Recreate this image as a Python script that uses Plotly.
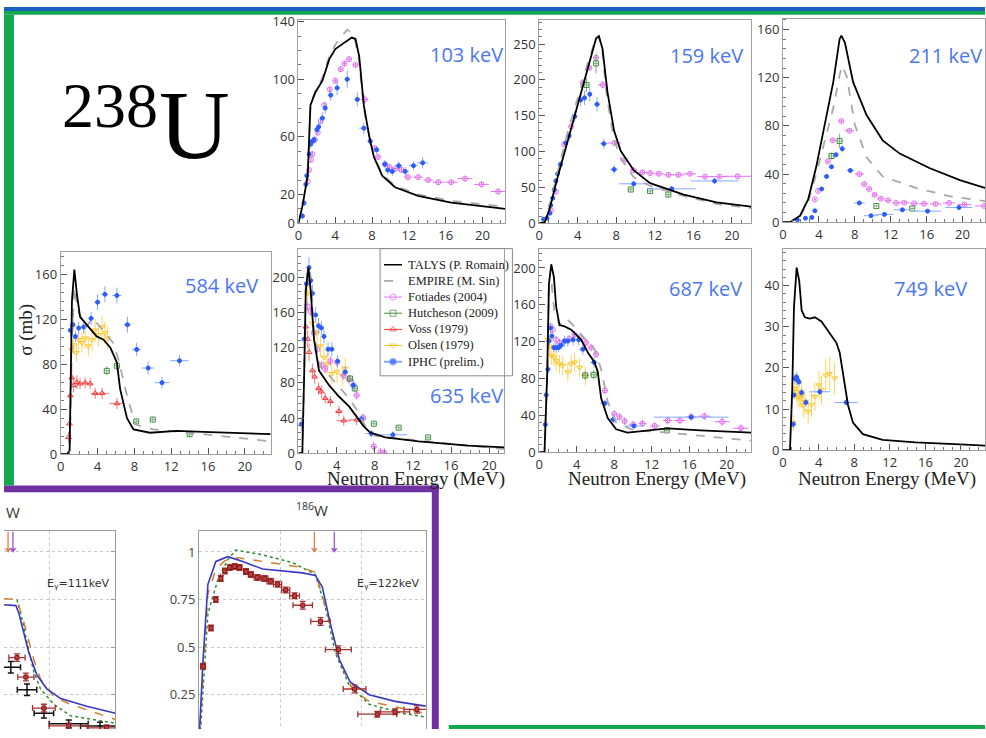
import plotly.graph_objects as go

W, H = 986, 738
def fx(p): return p / W
def fy(p): return 1 - p / H

# ---------------- DATA ----------------
XTICKS = [0, 4, 8, 12, 16, 20]
PANEL_LABELS = ["103 keV", "159 keV", "211 keV", "584 keV", "635 keV", "687 keV", "749 keV"]
LEGEND_NAMES = ["TALYS (P. Romain)", "EMPIRE (M. Sin)", "Fotiades (2004)", "Hutcheson (2009)",
                "Voss (1979)", "Olsen (1979)", "IPHC (prelim.)"]

# 103 keV
p103_talys_x = [0, 0.43, 1.0, 1.3, 1.84, 2.6, 3.35, 4.0, 5.1, 5.8, 6.2, 6.6, 7.1, 7.7, 8.2, 9.1, 10.5, 13.0, 16.6, 22.5]
p103_talys_y = [0, 12, 33, 82, 91, 99, 114, 121, 126, 129, 128, 116, 82, 60, 46, 33, 25, 19, 14.3, 10]
p103_empire_x = [0, 0.43, 1.0, 1.3, 1.84, 2.6, 3.35, 4.0, 4.7, 5.3, 5.8, 6.2, 6.6, 7.1, 7.7, 8.2, 9.1, 10.5, 13.0, 16.6, 22.5]
p103_empire_y = [0, 12, 33, 82, 92, 101, 116, 124, 130, 134.5, 132, 126, 112, 80, 60, 47, 34, 26, 20, 15.5, 11.5]
p103_iphc_x = [0.43, 0.6, 0.8, 0.9, 1.15, 1.33, 1.5, 1.7, 2.0, 2.2, 2.6, 2.9, 3.5, 4.2, 5.3, 6.4, 7.1, 7.8, 8.5, 9.4, 9.7, 10.2, 10.9, 11.6, 12.5, 13.5]
p103_iphc_y = [5, 14, 27, 33, 48, 55, 57, 58, 65, 67, 73, 80, 89, 94, 100, 86, 66, 57, 51, 41, 37, 36, 40, 36, 40, 42]
p103_iphc_ex = [0.1, 0.1, 0.1, 0.1, 0.1, 0.1, 0.1, 0.1, 0.15, 0.15, 0.15, 0.2, 0.2, 0.3, 0.3, 0.3, 0.5, 0.3, 0.3, 0.3, 0.3, 0.3, 0.4, 0.4, 0.5, 0.6]
p103_iphc_ey = [2, 2, 3, 3, 3, 3, 3, 3, 3, 4, 4, 4, 4, 5, 6, 5, 4, 3, 3, 3, 3, 3, 3, 3, 3, 4]
p103_fot_x = [1.0, 1.15, 1.35, 1.5, 1.8, 2.1, 2.4, 2.8, 3.4, 4.0, 4.6, 5.0, 5.5, 6.2, 7.2, 8.3, 8.65, 9.4, 9.9, 10.6, 11.2, 11.9, 13.0, 14.1, 15.2, 16.6, 18.1, 19.9, 21.7]
p103_fot_y = [29, 37, 44, 48, 58, 63, 71, 82, 93, 99, 107, 111, 114, 110, 86, 52, 46, 41, 39, 38, 37, 32, 32, 30, 28.5, 28.5, 31, 27, 22]
p103_fot_ex = [0.05, 0.05, 0.05, 0.05, 0.1, 0.1, 0.1, 0.1, 0.15, 0.2, 0.2, 0.2, 0.25, 0.3, 0.4, 0.3, 0.3, 0.3, 0.3, 0.4, 0.4, 0.4, 0.5, 0.5, 0.6, 0.7, 0.8, 0.8, 0.8]
p103_fot_ey = [2, 2, 2, 2, 2, 2, 2, 2, 2, 2, 2, 2, 2, 2, 3, 2, 2, 2, 2, 2, 2, 2, 2, 2, 2, 2, 2, 2, 2]

# 159 keV
p159_talys_x = [0, 0.55, 1.06, 1.92, 2.96, 4.0, 5.0, 5.9, 6.2, 6.57, 7.08, 7.77, 8.45, 9.8, 11.5, 15, 18.4, 22]
p159_talys_y = [0, 1, 19.5, 65, 115, 165, 215, 258, 261, 243, 183, 129, 101, 74, 56, 40, 29, 23]
p159_empire_x = [0, 0.55, 1.0, 1.9, 2.9, 4.0, 5.0, 5.8, 6.1, 6.5, 7.0, 7.7, 8.4, 9.8, 11.5, 15, 18.4, 22]
p159_empire_y = [0, 2, 22, 72, 125, 175, 222, 255, 262, 245, 178, 120, 92, 64, 52, 38, 27, 21]
p159_iphc_x = [0.45, 0.8, 1.1, 1.2, 1.4, 1.55, 1.72, 1.9, 2.2, 2.75, 3.1, 3.68, 4.3, 4.7, 5.25, 6.0, 6.7, 7.77, 9.8, 13.75, 18.2]
p159_iphc_y = [5.5, 7, 14, 25, 35, 47, 59, 69, 82, 112, 122, 149, 172, 175, 180, 166, 111, 75, 55, 48, 59]
p159_iphc_ex = [0.1, 0.1, 0.1, 0.1, 0.1, 0.1, 0.1, 0.1, 0.1, 0.1, 0.1, 0.1, 0.1, 0.2, 0.2, 0.3, 0.4, 0.4, 1.5, 2.5, 2.5]
p159_iphc_ey = [3, 3, 3, 3, 4, 4, 4, 5, 5, 6, 6, 8, 9, 10, 10, 10, 7, 6, 4, 4, 4]
p159_fot_x = [1.2, 1.72, 2.58, 3.3, 4.5, 5.2, 5.9, 6.6, 7.8, 8.8, 9.8, 10.7, 11.5, 12.4, 13.4, 14.45, 15.65, 17.2, 18.7, 20.6]
p159_fot_y = [18, 44, 110, 135, 196, 217, 231, 193, 112, 88, 74, 71, 70, 69, 67.5, 67.5, 69, 65, 65, 65.5]
p159_fot_ex = [0.1, 0.1, 0.1, 0.2, 0.2, 0.3, 0.3, 0.5, 0.7, 0.4, 0.4, 0.4, 0.4, 0.5, 0.5, 0.6, 0.6, 0.8, 0.8, 1.5]
p159_fot_ey = [3, 3, 4, 4, 4, 4, 4, 5, 4, 3, 3, 3, 3, 3, 3, 3, 3, 3, 3, 3]
p159_hut_x = [4.9, 5.9, 9.5, 11.5, 13.4]
p159_hut_y = [193, 223, 47, 45, 40]
p159_hut_ex = [0.3, 0.3, 0.2, 0.2, 0.2]
p159_hut_ey = [10, 14, 3, 3, 3]

# 211 keV
p211_talys_x = [0, 0.8, 1.9, 2.8, 3.7, 4.67, 5.6, 6.3, 6.5, 6.9, 7.8, 9.3, 11.1, 13, 16.3, 19.7, 22.5]
p211_talys_y = [0, 0, 5.4, 19, 46, 81, 116.5, 152, 155, 149, 116.5, 89, 68, 57, 45, 35, 28.5]
p211_empire_x = [0, 0.8, 1.9, 2.8, 3.7, 4.67, 5.6, 6.3, 6.6, 7.1, 8.0, 9.3, 11.1, 14.8, 18.5, 22.5]
p211_empire_y = [0, 0, 5, 17, 40, 68, 95, 122, 130, 121, 81, 54, 38, 28.5, 21.7, 17.6]
p211_iphc_x = [1.6, 2.5, 3.2, 3.55, 4.3, 4.85, 5.4, 5.9, 6.6, 7.5, 8.5, 9.8, 11.3, 13.3, 16.1, 19.6]
p211_iphc_y = [2, 3.3, 4, 9.5, 27.6, 38, 46, 56, 61, 43, 16, 5.4, 6.5, 10.3, 9.2, 12.2]
p211_iphc_ex = [0.1, 0.1, 0.1, 0.1, 0.1, 0.1, 0.1, 0.1, 0.2, 0.4, 0.6, 0.8, 1.0, 1.0, 1.5, 1.5]
p211_iphc_ey = [1, 1, 1, 1, 1.5, 1.5, 2, 2, 3, 2, 1.5, 1, 1, 1, 1, 1]
p211_fot_x = [3.55, 3.9, 5.0, 5.55, 6.5, 7.4, 8.5, 9.05, 9.6, 10.2, 10.9, 11.7, 12.6, 13.5, 14.6, 15.7, 17.0, 18.5, 20.2, 22.4]
p211_fot_y = [19, 26, 50.5, 68, 84, 76, 40, 31.7, 27.6, 22.8, 19.5, 18.2, 16, 16.3, 15.7, 15.4, 15.2, 16, 14.6, 13.5]
p211_fot_ex = [0.1, 0.1, 0.2, 0.3, 0.3, 0.5, 0.5, 0.3, 0.3, 0.3, 0.4, 0.4, 0.4, 0.5, 0.5, 0.5, 0.6, 0.7, 0.8, 1.0]
p211_fot_ey = [1.5, 1.5, 1.5, 1.5, 1.5, 1.5, 1.5, 1.5, 1.5, 1.5, 1.5, 1.5, 1.5, 1.5, 1.5, 1.5, 1.5, 1.5, 1.5, 1.5]
p211_hut_x = [5.4, 6.3, 10.4, 14.4]
p211_hut_y = [55, 67.5, 13.5, 11.4]
p211_hut_ex = [0.3, 0.3, 0.2, 0.2]
p211_hut_ey = [3, 6, 1, 1]

# 584 keV
p584_talys_x = [0, 0.7, 0.97, 1.1, 1.22, 1.48, 1.76, 2.1, 2.85, 3.9, 4.65, 5.4, 6.1, 6.45, 7.2, 7.9, 9.7, 12.6, 15.5, 22.8]
p584_talys_y = [0, 0, 3, 67, 136, 164, 142, 122, 115, 104.6, 101.7, 94.5, 81.5, 58, 32, 22, 19, 20.6, 19.7, 17.7]
p584_empire_x = [0, 0.7, 1.0, 1.22, 1.48, 1.84, 2.7, 3.4, 4.1, 5.7, 6.27, 7.2, 8.1, 10, 15.5, 19, 22.8]
p584_empire_y = [0, 0, 3, 102, 148, 128, 112, 120.6, 114.8, 98.8, 84, 52, 26.4, 22, 17.7, 14.8, 11.3]
p584_iphc_x = [1.05, 1.33, 1.6, 1.95, 2.5, 3.3, 4.0, 4.8, 6.1, 7.25, 8.25, 9.5, 11.0, 12.9]
p584_iphc_y = [110, 115, 104.6, 112, 113, 120.6, 135, 142, 141, 115, 93, 76.5, 63.5, 83]
p584_iphc_ex = [0.1, 0.1, 0.1, 0.15, 0.2, 0.3, 0.3, 0.4, 0.5, 0.4, 0.5, 0.7, 0.8, 1.0]
p584_iphc_ey = [6, 6, 5, 6, 6, 6, 7, 7, 7, 7, 6, 6, 5, 5]
p584_voss_x = [0.85, 0.95, 1.05, 1.2, 1.4, 1.76, 2.1, 2.65, 3.2, 3.75, 4.5, 6.1]
p584_voss_y = [15, 27, 52, 68, 61, 64, 62.6, 63.5, 62.6, 54, 54, 45]
p584_voss_ex = [0.05, 0.05, 0.05, 0.1, 0.1, 0.15, 0.2, 0.25, 0.3, 0.5, 0.8, 0.8]
p584_voss_ey = [5, 5, 6, 6, 6, 6, 5, 5, 5, 5, 5, 5]
p584_olsen_x = [1.2, 1.4, 1.7, 1.95, 2.3, 2.65, 3.0, 3.4, 3.75, 4.1, 4.5, 4.8, 5.1]
p584_olsen_y = [93, 97, 90, 101.7, 99, 103, 96, 101.7, 110, 106, 113, 107.6, 103]
p584_olsen_ex = [0.05, 0.05, 0.05, 0.05, 0.05, 0.05, 0.05, 0.05, 0.05, 0.05, 0.05, 0.05, 0.05]
p584_olsen_ey = [8, 8, 8, 9, 9, 9, 9, 10, 10, 10, 10, 10, 10]
p584_hut_x = [5.0, 6.1, 8.2, 10.0, 14.0]
p584_hut_y = [74, 78.5, 29, 30.7, 17.7]
p584_hut_ex = [0.3, 0.3, 0.2, 0.2, 0.2]
p584_hut_ey = [4, 4, 2, 2, 2]

# 635 keV
p635_talys_x = [0, 0.4, 0.6, 0.76, 1.04, 1.28, 1.63, 2.15, 3.2, 4.24, 5.3, 6.1, 6.8, 7.5, 9.1, 12.6, 17.8, 21.6]
p635_talys_y = [0, 0, 92, 185, 211.5, 185, 129.6, 94, 77.4, 64.5, 53.3, 42, 31, 23.5, 17.9, 13.4, 8.6, 6.5]
p635_empire_x = [0, 0.4, 0.6, 0.76, 1.04, 1.28, 1.63, 2.15, 3.2, 4.24, 5.3, 6.1, 7.0, 8.0, 14.3, 21.6]
p635_empire_y = [0, 0, 95, 190, 214, 190, 140, 102, 88.6, 75.6, 62.6, 49.5, 31, 19.8, 12.3, 4.5]
p635_iphc_x = [0.3, 0.6, 0.83, 1.1, 1.28, 1.46, 1.8, 2.1, 2.4, 2.67, 3.1, 3.5, 4.1, 4.9, 5.75, 6.6, 7.65, 9.9]
p635_iphc_y = [33, 130, 193, 211.5, 196.6, 182, 157.5, 145, 142.7, 133, 118.4, 118.4, 104.7, 92.4, 77.4, 39, 22.3, 20.9]
p635_iphc_ex = [0.05, 0.05, 0.05, 0.1, 0.1, 0.1, 0.15, 0.15, 0.15, 0.15, 0.2, 0.2, 0.3, 0.3, 0.4, 0.4, 0.6, 1.5]
p635_iphc_ey = [8, 10, 12, 12, 10, 10, 9, 9, 8, 8, 8, 8, 7, 7, 7, 5, 4, 4]
p635_fot_x = [0.96, 1.28, 1.6, 1.95, 2.4, 2.8, 3.35, 4.05, 4.75, 5.3, 5.75, 6.1, 6.8, 7.9, 8.6, 9.0]
p635_fot_y = [167, 161, 137, 118, 100, 96, 105, 103.5, 88.6, 84, 77.4, 66, 40, 7.5, 1, 0.5]
p635_fot_ex = [0.05, 0.05, 0.1, 0.1, 0.1, 0.15, 0.2, 0.2, 0.2, 0.25, 0.25, 0.3, 0.3, 0.3, 0.2, 0.2]
p635_fot_ey = [5, 5, 5, 5, 5, 5, 5, 5, 5, 5, 5, 5, 5, 5, 5, 5]
p635_voss_x = [0.76, 0.96, 1.1, 1.46, 1.7, 2.1, 2.4, 2.8, 3.35, 4.24, 4.75, 6.1]
p635_voss_y = [144, 130, 115, 94, 87, 73.7, 70, 62.6, 59, 47.7, 37, 38]
p635_voss_ex = [0.05, 0.05, 0.05, 0.1, 0.1, 0.15, 0.15, 0.2, 0.3, 0.4, 0.8, 0.8]
p635_voss_ey = [10, 10, 10, 8, 8, 7, 7, 6, 6, 6, 6, 6]
p635_olsen_x = [0.96, 1.1, 1.46, 1.95, 2.3, 2.67, 3.0, 3.5, 4.05, 4.6, 4.9]
p635_olsen_y = [182, 200, 148, 137, 122, 109, 101.7, 90.5, 92.4, 88.6, 96]
p635_olsen_ex = [0.05, 0.05, 0.05, 0.05, 0.05, 0.05, 0.05, 0.05, 0.05, 0.05, 0.05]
p635_olsen_ey = [12, 12, 12, 12, 12, 12, 12, 12, 12, 12, 12]
p635_hut_x = [5.4, 5.9, 7.9, 10.5, 13.6]
p635_hut_y = [85, 73.7, 33.5, 29, 17.9]
p635_hut_ex = [0.3, 0.3, 0.2, 0.2, 0.2]
p635_hut_ey = [4, 4, 2, 2, 2]

# 687 keV
p687_talys_x = [0, 0.56, 0.85, 1.03, 1.28, 1.56, 1.8, 2.16, 2.7, 3.4, 4.47, 5.2, 5.9, 6.24, 6.6, 7.3, 8.2, 9.4, 11.2, 13.7, 17.2, 22.6]
p687_talys_y = [0, 0, 87, 182.6, 204, 190, 158, 138, 136.5, 133, 122, 108, 97.5, 87, 58.5, 37, 24.8, 21.3, 23, 25.9, 23.7, 21.3]
p687_empire_x = [0, 0.56, 0.85, 1.03, 1.28, 1.6, 2.16, 2.87, 3.4, 4.47, 5.9, 6.6, 7.3, 8.2, 10.1, 13.7, 17.2, 22.6]
p687_empire_y = [0, 0, 85, 178, 186, 154, 138, 145.4, 140, 127.7, 111.7, 90, 55, 32, 23.7, 21.3, 17.7, 12.4]
p687_iphc_x = [0.64, 0.74, 0.92, 1.03, 1.2, 1.35, 1.56, 1.8, 2.05, 2.34, 2.7, 3.05, 3.6, 4.2, 4.65, 5.84, 7.0, 7.9, 10.1, 16.2]
p687_iphc_y = [30, 62, 90, 120.6, 134.8, 126, 113.5, 113.5, 113.5, 116, 120.6, 120.6, 122, 122, 111.7, 97.5, 53, 35.5, 28.4, 38]
p687_iphc_ex = [0.05, 0.05, 0.05, 0.05, 0.05, 0.1, 0.1, 0.1, 0.1, 0.15, 0.15, 0.2, 0.3, 0.3, 0.4, 0.4, 0.5, 0.5, 1.0, 4.0]
p687_iphc_ey = [5, 5, 6, 6, 6, 6, 5, 5, 5, 5, 6, 6, 6, 6, 6, 6, 4, 4, 3, 3]
p687_fot_x = [1.2, 1.45, 1.8, 2.16, 2.7, 3.2, 3.76, 4.47, 5.0, 5.53, 6.06, 7.0, 8.0, 8.55, 9.1, 10.0, 11.0, 12.3, 13.7, 15.0, 16.2, 17.6, 19.5, 21.5]
p687_fot_y = [136.5, 133, 122, 118.8, 120.6, 123, 127.7, 124, 118.8, 113.5, 106.4, 67, 41.5, 38.3, 33.7, 30, 31, 28.4, 34.4, 34.4, 38.3, 39, 33, 26]
p687_fot_ex = [0.05, 0.05, 0.1, 0.1, 0.15, 0.2, 0.2, 0.25, 0.25, 0.25, 0.3, 0.3, 0.3, 0.3, 0.3, 0.4, 0.4, 0.5, 0.5, 0.6, 0.6, 0.7, 0.8, 0.8]
p687_fot_ey = [4, 4, 4, 4, 4, 4, 4, 4, 4, 4, 4, 4, 4, 4, 4, 4, 4, 4, 4, 4, 4, 4, 4, 4]
p687_olsen_x = [0.92, 1.1, 1.28, 1.56, 1.8, 2.16, 2.5, 3.05, 3.4, 3.76, 4.3, 4.9]
p687_olsen_y = [122, 115, 104.6, 103, 99, 95.7, 94, 87, 95.7, 97.5, 92, 83]
p687_olsen_ex = [0.05, 0.05, 0.05, 0.05, 0.05, 0.05, 0.05, 0.05, 0.05, 0.05, 0.05, 0.05]
p687_olsen_ey = [10, 10, 10, 10, 10, 10, 10, 10, 10, 10, 10, 10]
p687_hut_x = [4.9, 5.8, 13.6]
p687_hut_y = [83.3, 84, 23.7]
p687_hut_ex = [0.4, 0.4, 0.3]
p687_hut_ey = [5, 5, 2]

# 749 keV
p749_talys_x = [0, 0.78, 1.04, 1.23, 1.53, 1.82, 2.09, 2.46, 3.0, 3.58, 4.32, 5.06, 6.0, 6.37, 6.74, 7.3, 7.86, 8.97, 11.2, 14.9, 20.5, 22.7]
p749_talys_y = [0, 0, 15, 34.8, 44.4, 41.2, 34, 32.3, 32, 32.3, 31.3, 28.9, 26.1, 23.7, 18.2, 11, 6.7, 3.9, 2.5, 1.9, 1.36, 1.1]
p749_iphc_x = [1.15, 1.23, 1.34, 1.53, 1.64, 1.79, 2.09, 2.57, 4.13, 7.1]
p749_iphc_y = [6.3, 13.4, 17.4, 17.8, 17, 16.6, 14, 11.6, 14.2, 11.6]
p749_iphc_ex = [0.03, 0.03, 0.05, 0.05, 0.05, 0.05, 0.1, 0.2, 1.2, 1.3]
p749_iphc_ey = [1, 1, 1.2, 1.2, 1.2, 1.2, 1, 1, 0.8, 0.8]
p749_olsen_x = [1.15, 1.34, 1.53, 1.7, 1.9, 2.09, 2.27, 2.46, 2.83, 3.2, 3.58, 4.05, 4.32, 4.8, 5.25, 5.8]
p749_olsen_y = [6.6, 15, 14.2, 13, 12.6, 13.4, 11, 11.8, 9.4, 11, 13, 15.8, 14.6, 18.2, 18.6, 17.5]
p749_olsen_ex = [0.03, 0.03, 0.03, 0.03, 0.03, 0.03, 0.03, 0.03, 0.03, 0.03, 0.03, 0.03, 0.03, 0.03, 0.03, 0.03]
p749_olsen_ey = [2, 2.5, 2.5, 2.5, 2.5, 3, 3, 3, 3, 3, 3.5, 3.5, 3.5, 4, 4, 4]

# W panels (relative yield)
w186_blue_x = [0, 0.06, 0.25, 0.55, 1.04, 1.78, 2.7, 3.93, 4.97, 6.38, 7.18, 7.61, 8.1, 8.66, 9.33, 10.5, 12.1, 14.0]
w186_blue_y = [0, 0.097, 0.435, 0.83, 0.95, 0.975, 0.95, 0.91, 0.90, 0.89, 0.877, 0.815, 0.625, 0.435, 0.317, 0.25, 0.215, 0.19]
w186_orange_x = [0, 0.55, 1.04, 1.6, 2.4, 4.36, 6.38, 7.18, 7.92, 8.66, 9.45, 10.5, 12.5, 14.0]
w186_orange_y = [0, 0.78, 0.91, 0.954, 0.97, 0.944, 0.918, 0.892, 0.677, 0.435, 0.28, 0.215, 0.18, 0.153]
w186_green_x = [0, 0.12, 0.55, 1.17, 1.78, 2.27, 3.93, 5.77, 7.18, 7.8, 8.41, 9.27, 10.5, 12.5, 14.0]
w186_green_y = [0, 0.097, 0.677, 0.856, 0.96, 1.01, 0.985, 0.944, 0.882, 0.71, 0.47, 0.30, 0.2, 0.153, 0.133]
w186_data_x = [0.25, 0.74, 1.04, 1.35, 1.6, 1.9, 2.2, 2.5, 2.9, 3.2, 3.6, 4.05, 4.4, 4.85, 5.35, 5.9, 6.4, 7.5, 8.6, 9.6, 11.0, 12.1, 13.45]
w186_data_y = [0.40, 0.60, 0.75, 0.86, 0.90, 0.918, 0.923, 0.918, 0.897, 0.882, 0.866, 0.861, 0.846, 0.83, 0.80, 0.77, 0.72, 0.635, 0.487, 0.28, 0.148, 0.16, 0.173]
w186_data_ex = [0.15, 0.1, 0.1, 0.1, 0.1, 0.1, 0.1, 0.15, 0.15, 0.15, 0.2, 0.2, 0.2, 0.25, 0.25, 0.3, 0.6, 0.6, 0.8, 0.7, 1.2, 0.9, 0.8]
w186_data_ey = [0.015, 0.015, 0.015, 0.015, 0.015, 0.015, 0.015, 0.015, 0.015, 0.015, 0.015, 0.015, 0.015, 0.015, 0.015, 0.015, 0.02, 0.02, 0.02, 0.02, 0.015, 0.015, 0.02]
w186_arrows_x = [7.12, 8.35]

w184_blue_x = [7.18, 7.92, 8.1, 8.41, 8.71, 9.21, 9.82, 10.68, 12.28, 14.05]
w184_blue_y = [0.723, 0.718, 0.677, 0.574, 0.471, 0.353, 0.281, 0.23, 0.189, 0.153]
w184_orange_x = [7.18, 7.98, 8.31, 8.61, 9.02, 9.43, 10.25, 11.27, 14.05]
w184_orange_y = [0.754, 0.75, 0.66, 0.56, 0.435, 0.333, 0.24, 0.2, 0.12]
w184_green_x = [7.98, 8.31, 8.61, 9.02, 9.43, 10.25, 11.27, 14.05]
w184_green_y = [0.75, 0.64, 0.52, 0.37, 0.28, 0.2, 0.14, 0.1]
w184_red_x = [7.98, 8.53, 9.64, 11.17, 13.5]
w184_red_y = [0.445, 0.343, 0.18, 0.086, 0.076]
w184_red_ex = [0.5, 0.5, 0.7, 1.2, 1.2]
w184_red_ey = [0.02, 0.02, 0.02, 0.015, 0.015]
w184_black_x = [7.6, 8.6, 9.64, 11.17, 13.1]
w184_black_y = [0.394, 0.276, 0.153, 0.097, 0.086]
w184_black_ex = [0.6, 0.6, 0.6, 1.2, 1.2]
w184_black_ey = [0.03, 0.03, 0.025, 0.02, 0.02]
w184_arrows_x = [7.43, 7.73]

# ---------------- STYLE ----------------
TALYS_LINE = dict(color="black", width=1.8)
EMPIRE_LINE = dict(color="#a9a9a9", width=1.8, dash="dash")
C_FOT, C_HUT, C_VOSS, C_OLS, C_IPHC, C_IPHC_E = "#e36ff0", "#3f8f3f", "#f03535", "#ffc21a", "#2a5cff", "#86a8ff"
LABEL_BLUE = "#4b76f3"
TICKFONT = dict(family="Open Sans", size=13, color="#333")
SERIF = "Liberation Serif"

fig = go.Figure()

def axn(i):
    return "" if i == 1 else str(i)

def curve(i, x, y, line):
    fig.add_trace(go.Scatter(x=x, y=y, mode="lines", line=line, xaxis="x" + axn(i), yaxis="y" + axn(i),
                             showlegend=False, hoverinfo="skip"))

def points(i, x, y, ex, ey, color, ecolor, symbol, size, cap=0, ew=1.0, lc=None):
    fig.add_trace(go.Scatter(x=x, y=y, mode="markers", xaxis="x" + axn(i), yaxis="y" + axn(i),
                             marker=dict(symbol=symbol, size=size, color=color, line=dict(color=lc or color, width=1)),
                             error_x=dict(type="data", array=ex, color=ecolor, thickness=ew, width=cap),
                             error_y=dict(type="data", array=ey, color=ecolor, thickness=ew, width=cap),
                             showlegend=False, hoverinfo="skip"))

def fot(i, x, y, ex, ey): points(i, x, y, ex, ey, C_FOT, C_FOT, "circle-open", 5)
def hut(i, x, y, ex, ey): points(i, x, y, ex, ey, C_HUT, "#7fb07f", "square-open", 5)
def voss(i, x, y, ex, ey): points(i, x, y, ex, ey, C_VOSS, "#f77", "triangle-up-open", 5)
def olsen(i, x, y, ex, ey): points(i, x, y, ex, ey, C_OLS, "#ffd35a", "triangle-down-open", 5)
def iphc(i, x, y, ex, ey): points(i, x, y, ex, ey, C_IPHC, C_IPHC_E, "circle", 4)

# Panel 1: 103 keV
fot(1, p103_fot_x, p103_fot_y, p103_fot_ex, p103_fot_ey)
iphc(1, p103_iphc_x, p103_iphc_y, p103_iphc_ex, p103_iphc_ey)
curve(1, p103_empire_x, p103_empire_y, EMPIRE_LINE)
curve(1, p103_talys_x, p103_talys_y, TALYS_LINE)
# Panel 2: 159 keV
fot(2, p159_fot_x, p159_fot_y, p159_fot_ex, p159_fot_ey)
hut(2, p159_hut_x, p159_hut_y, p159_hut_ex, p159_hut_ey)
iphc(2, p159_iphc_x, p159_iphc_y, p159_iphc_ex, p159_iphc_ey)
curve(2, p159_empire_x, p159_empire_y, EMPIRE_LINE)
curve(2, p159_talys_x, p159_talys_y, TALYS_LINE)
# Panel 3: 211 keV
fot(3, p211_fot_x, p211_fot_y, p211_fot_ex, p211_fot_ey)
hut(3, p211_hut_x, p211_hut_y, p211_hut_ex, p211_hut_ey)
iphc(3, p211_iphc_x, p211_iphc_y, p211_iphc_ex, p211_iphc_ey)
curve(3, p211_empire_x, p211_empire_y, EMPIRE_LINE)
curve(3, p211_talys_x, p211_talys_y, TALYS_LINE)
# Panel 4: 584 keV
olsen(4, p584_olsen_x, p584_olsen_y, p584_olsen_ex, p584_olsen_ey)
voss(4, p584_voss_x, p584_voss_y, p584_voss_ex, p584_voss_ey)
hut(4, p584_hut_x, p584_hut_y, p584_hut_ex, p584_hut_ey)
iphc(4, p584_iphc_x, p584_iphc_y, p584_iphc_ex, p584_iphc_ey)
curve(4, p584_empire_x, p584_empire_y, EMPIRE_LINE)
curve(4, p584_talys_x, p584_talys_y, TALYS_LINE)
# Panel 5: 635 keV
olsen(5, p635_olsen_x, p635_olsen_y, p635_olsen_ex, p635_olsen_ey)
voss(5, p635_voss_x, p635_voss_y, p635_voss_ex, p635_voss_ey)
fot(5, p635_fot_x, p635_fot_y, p635_fot_ex, p635_fot_ey)
hut(5, p635_hut_x, p635_hut_y, p635_hut_ex, p635_hut_ey)
iphc(5, p635_iphc_x, p635_iphc_y, p635_iphc_ex, p635_iphc_ey)
curve(5, p635_empire_x, p635_empire_y, EMPIRE_LINE)
curve(5, p635_talys_x, p635_talys_y, TALYS_LINE)
# Panel 6: 687 keV
olsen(6, p687_olsen_x, p687_olsen_y, p687_olsen_ex, p687_olsen_ey)
fot(6, p687_fot_x, p687_fot_y, p687_fot_ex, p687_fot_ey)
hut(6, p687_hut_x, p687_hut_y, p687_hut_ex, p687_hut_ey)
iphc(6, p687_iphc_x, p687_iphc_y, p687_iphc_ex, p687_iphc_ey)
curve(6, p687_empire_x, p687_empire_y, EMPIRE_LINE)
curve(6, p687_talys_x, p687_talys_y, TALYS_LINE)
# Panel 7: 749 keV
olsen(7, p749_olsen_x, p749_olsen_y, p749_olsen_ex, p749_olsen_ey)
iphc(7, p749_iphc_x, p749_iphc_y, p749_iphc_ex, p749_iphc_ey)
curve(7, p749_talys_x, p749_talys_y, TALYS_LINE)

# W panels: 8 = left (partial), 9 = 186W
curve(8, w184_green_x, w184_green_y, dict(color="#2e8b2e", width=1.5, dash="dot"))
curve(8, w184_orange_x, w184_orange_y, dict(color="#d08030", width=1.5, dash="dash"))
curve(8, w184_blue_x, w184_blue_y, dict(color="#3838c8", width=1.6))
points(8, w184_black_x, w184_black_y, w184_black_ex, w184_black_ey, "#111", "#111", "line-ew", 4, cap=3, ew=1.5)
points(8, w184_red_x, w184_red_y, w184_red_ex, w184_red_ey, "#c04040", "#a83030", "square", 4, cap=3, ew=1.3, lc="#801818")
curve(9, w186_green_x, w186_green_y, dict(color="#2e8b2e", width=1.5, dash="dot"))
curve(9, w186_orange_x, w186_orange_y, dict(color="#d08030", width=1.5, dash="dash"))
curve(9, w186_blue_x, w186_blue_y, dict(color="#3838c8", width=1.6))
points(9, w186_data_x, w186_data_y, w186_data_ex, w186_data_ey, "#c04040", "#a83030", "square", 4, cap=3, ew=1.3, lc="#801818")

# threshold arrows in W panels: vertical stem + triangular head drawn through each panel's own axes
ARROW_TOP, ARROW_TIP = 1.108, 1.0
for ax_i, xs in ((8, w184_arrows_x), (9, w186_arrows_x)):
    for xv, col in zip(xs, ("#e0804a", "#a050e0")):
        fig.add_trace(go.Scatter(x=[xv, xv], y=[ARROW_TOP, ARROW_TIP + 0.02], mode="lines",
                                 line=dict(color=col, width=1.3), xaxis="x%d" % ax_i, yaxis="y%d" % ax_i,
                                 showlegend=False, hoverinfo="skip"))
        fig.add_trace(go.Scatter(x=[xv], y=[ARROW_TIP + 0.012], mode="markers",
                                 marker=dict(symbol="triangle-down", size=6, color=col),
                                 xaxis="x%d" % ax_i, yaxis="y%d" % ax_i, showlegend=False, hoverinfo="skip"))

# ---- legend (drawn on a hidden overlay axis spanning the legend box, pixel units) ----
LEG_L, LEG_T, LEG_R, LEG_B = 378, 247, 511, 377
leg_rows = [263.5, 280, 296.5, 313, 329.5, 346, 362.5]
leg_styles = [
    dict(mode="lines", line=dict(color="black", width=1.5)),
    dict(mode="lines", line=dict(color="#a9a9a9", width=1.8, dash="dash")),
    dict(mode="lines+markers", line=dict(color=C_FOT, width=1), marker=dict(symbol="circle-open", size=6, color=C_FOT)),
    dict(mode="lines+markers", line=dict(color=C_HUT, width=1), marker=dict(symbol="square-open", size=6, color=C_HUT)),
    dict(mode="lines+markers", line=dict(color=C_VOSS, width=1), marker=dict(symbol="triangle-up-open", size=6, color=C_VOSS)),
    dict(mode="lines+markers", line=dict(color=C_OLS, width=1), marker=dict(symbol="triangle-down-open", size=6, color=C_OLS)),
    dict(mode="lines+markers", line=dict(color=C_IPHC_E, width=2), marker=dict(symbol="circle", size=7, color=C_IPHC)),
]
for name, ry, st in zip(LEGEND_NAMES, leg_rows, leg_styles):
    xs = [382, 391, 400]
    if st["mode"] == "lines+markers":
        fig.add_trace(go.Scatter(x=xs, y=[ry] * 3, xaxis="x10", yaxis="y10", showlegend=False, hoverinfo="skip",
                                 mode="lines+markers", line=st["line"],
                                 marker=dict(st["marker"], size=[0, st["marker"]["size"], 0])))
    else:
        fig.add_trace(go.Scatter(x=xs, y=[ry] * 3, xaxis="x10", yaxis="y10", showlegend=False, hoverinfo="skip", **st))

# ---------------- AXES (layout) ----------------
# (index, left, top, right, bottom px, xrange, yrange, ytickvals, yminor)
PANELS = [
    (1, 296, 13, 504, 221, [0, 22.5], [0, 141.4], [0, 20, 60, 100, 140], 10),
    (2, 538, 13, 751, 221, [0, 22.0], [0, 284], [0, 50, 100, 150, 200, 250], 10),
    (3, 783, 12, 986, 220, [0, 22.5], [0, 169], [0, 40, 80, 120, 160], 8),
    (4, 57, 250, 268, 457, [0, 22.8], [0, 180], [0, 40, 80, 120, 160], 8),
    (5, 296, 247, 503, 456, [0, 21.6], [0, 233], [0, 40, 80, 120, 160, 200], 8),
    (6, 538, 247, 751, 455, [0, 22.6], [0, 221], [0, 40, 80, 120, 160, 200], 8),
    (7, 783, 247, 986, 453, [0, 22.7], [0, 49], [0, 10, 20, 30, 40], 2),
]
layout_axes = {}
for i, L, T, R, B, xr, yr, yt, ym in PANELS:
    s = axn(i)
    layout_axes["xaxis" + s] = dict(domain=[fx(L), fx(R)], range=xr, anchor="y" + s, tickvals=XTICKS,
                                    ticks="inside", ticklen=6, tickcolor="#555", showline=True, mirror=True,
                                    linecolor="#a0a0a0", linewidth=1, showgrid=False, zeroline=False,
                                    tickfont=TICKFONT, ticklabelstandoff=0,
                                    minor=dict(ticks="inside", dtick=1, ticklen=3, tickcolor="#777"))
    layout_axes["yaxis" + s] = dict(domain=[fy(B), fy(T)], range=yr, anchor="x" + s, tickvals=yt,
                                    ticks="inside", ticklen=6, tickcolor="#555", showline=True, mirror=True,
                                    linecolor="#a0a0a0", linewidth=1, showgrid=False, zeroline=False,
                                    tickfont=TICKFONT,
                                    minor=dict(ticks="inside", dtick=ym, ticklen=3, tickcolor="#777"))

WGRID = dict(showgrid=True, griddash="dot", gridcolor="#c8c8c8", gridwidth=1, zeroline=False)
layout_axes["xaxis8"] = dict(domain=[0, fx(112)], range=[7.18, 14.05], anchor="y8", side="top", tickvals=[10],
                             showticklabels=False, ticks="", showline=True, linecolor="#999", **WGRID)
layout_axes["yaxis8"] = dict(domain=[0, fy(536)], range=[0.07, 1.108], anchor="x8", side="right",
                             tickvals=[0.25, 0.5, 0.75, 1], showticklabels=False, ticks="inside", ticklen=4,
                             tickcolor="#999", showline=True, linecolor="#999", **WGRID)
layout_axes["xaxis9"] = dict(domain=[fx(196), fx(424)], range=[0, 14], anchor="y9", side="top", tickvals=[5, 10],
                             showticklabels=False, ticks="", showline=True, linecolor="#999", **WGRID)
layout_axes["yaxis9"] = dict(domain=[0, fy(536)], range=[0.07, 1.108], anchor="x9",
                             tickvals=[0.25, 0.5, 0.75, 1], ticktext=["0.25", "0.5", "0.75", "1"],
                             ticks="", showline=True, mirror=True, linecolor="#999",
                             tickfont=dict(family="Open Sans", size=13, color="#444"), **WGRID)
layout_axes["xaxis10"] = dict(domain=[fx(LEG_L), fx(LEG_R)], range=[LEG_L, LEG_R], anchor="y10", visible=False)
layout_axes["yaxis10"] = dict(domain=[fy(LEG_B), fy(LEG_T)], range=[LEG_B, LEG_T], anchor="x10", visible=False)

# ---------------- ANNOTATIONS ----------------
ann = []
label_pos = [(465, 49), (706, 50), (946, 50), (219, 285), (465, 397), (705, 288), (931, 288)]
for txt, (cx, cy) in zip(PANEL_LABELS, label_pos):
    ann.append(dict(text=txt, x=fx(cx), y=fy(cy), xref="paper", yref="paper", showarrow=False,
                    font=dict(family="Open Sans", size=20, color=LABEL_BLUE), xanchor="center", yanchor="middle"))
for cx in (414, 656, 887):
    ann.append(dict(text="Neutron Energy (MeV)", x=fx(cx), y=fy(482), xref="paper", yref="paper", showarrow=False,
                    font=dict(family=SERIF, size=19, color="#222"), xanchor="center", yanchor="middle"))
ann.append(dict(text="σ (mb)", x=fx(22), y=fy(330), xref="paper", yref="paper", showarrow=False, textangle=-90,
                font=dict(family=SERIF, size=19, color="#222"), xanchor="center", yanchor="middle"))
ann.append(dict(text="238", x=fx(107), y=fy(101), xref="paper", yref="paper", showarrow=False,
                font=dict(family=SERIF, size=64, color="#000"), xanchor="center", yanchor="middle"))
ann.append(dict(text="U", x=fx(191), y=fy(121), xref="paper", yref="paper", showarrow=False,
                font=dict(family=SERIF, size=98, color="#000"), xanchor="center", yanchor="middle"))
for name, ry in zip(LEGEND_NAMES, leg_rows):
    ann.append(dict(text=name, x=fx(404), y=fy(ry), xref="paper", yref="paper", showarrow=False,
                    font=dict(family=SERIF, size=12.5, color="#222"), xanchor="left", yanchor="middle"))
# W panel texts
ann.append(dict(text="<sup>186</sup>W", x=fx(310), y=fy(514), xref="paper", yref="paper", showarrow=False,
                font=dict(family="Open Sans", size=15, color="#333"), xanchor="center", yanchor="middle"))
ann.append(dict(text="W", x=fx(0), y=fy(516), xref="paper", yref="paper", showarrow=False,
                font=dict(family="Open Sans", size=15, color="#333"), xanchor="left", yanchor="middle"))
ann.append(dict(text="E<sub>γ</sub>=111keV", x=fx(74), y=fy(590), xref="paper", yref="paper", showarrow=False,
                font=dict(family="DejaVu Sans", size=11, color="#333"), xanchor="center", yanchor="middle"))
ann.append(dict(text="E<sub>γ</sub>=122keV", x=fx(386), y=fy(590), xref="paper", yref="paper", showarrow=False,
                font=dict(family="DejaVu Sans", size=11, color="#333"), xanchor="center", yanchor="middle"))

# ---------------- FRAME SHAPES ----------------
shapes = [
    dict(type="rect", xref="paper", yref="paper", x0=0, x1=1, y0=fy(4), y1=1, fillcolor="#1a62c0", line_width=0),
    dict(type="rect", xref="paper", yref="paper", x0=0, x1=1, y0=fy(8), y1=fy(4), fillcolor="#12a84e", line_width=0),
    dict(type="rect", xref="paper", yref="paper", x0=0, x1=fx(10), y0=fy(489), y1=fy(8), fillcolor="#12a84e", line_width=0),
    dict(type="rect", xref="paper", yref="paper", x0=0, x1=fx(437), y0=fy(496), y1=fy(489), fillcolor="#7030a0", line_width=0),
    dict(type="rect", xref="paper", yref="paper", x0=fx(430), x1=fx(437), y0=0, y1=fy(489), fillcolor="#7030a0", line_width=0),
    dict(type="rect", xref="paper", yref="paper", x0=fx(447), x1=1, y0=0, y1=fy(734), fillcolor="#12a84e", line_width=0),
    dict(type="rect", xref="paper", yref="paper", x0=fx(LEG_L), x1=fx(LEG_R), y0=fy(LEG_B), y1=fy(LEG_T),
         line=dict(color="#888", width=1), fillcolor="rgba(0,0,0,0)"),
]

fig.update_layout(
    width=W, height=H, autosize=False,
    margin=dict(l=0, r=0, t=0, b=0),
    paper_bgcolor="white", plot_bgcolor="rgba(0,0,0,0)",
    annotations=ann, shapes=shapes, showlegend=False,
    **layout_axes,
)

fig.write_html("out.html")
